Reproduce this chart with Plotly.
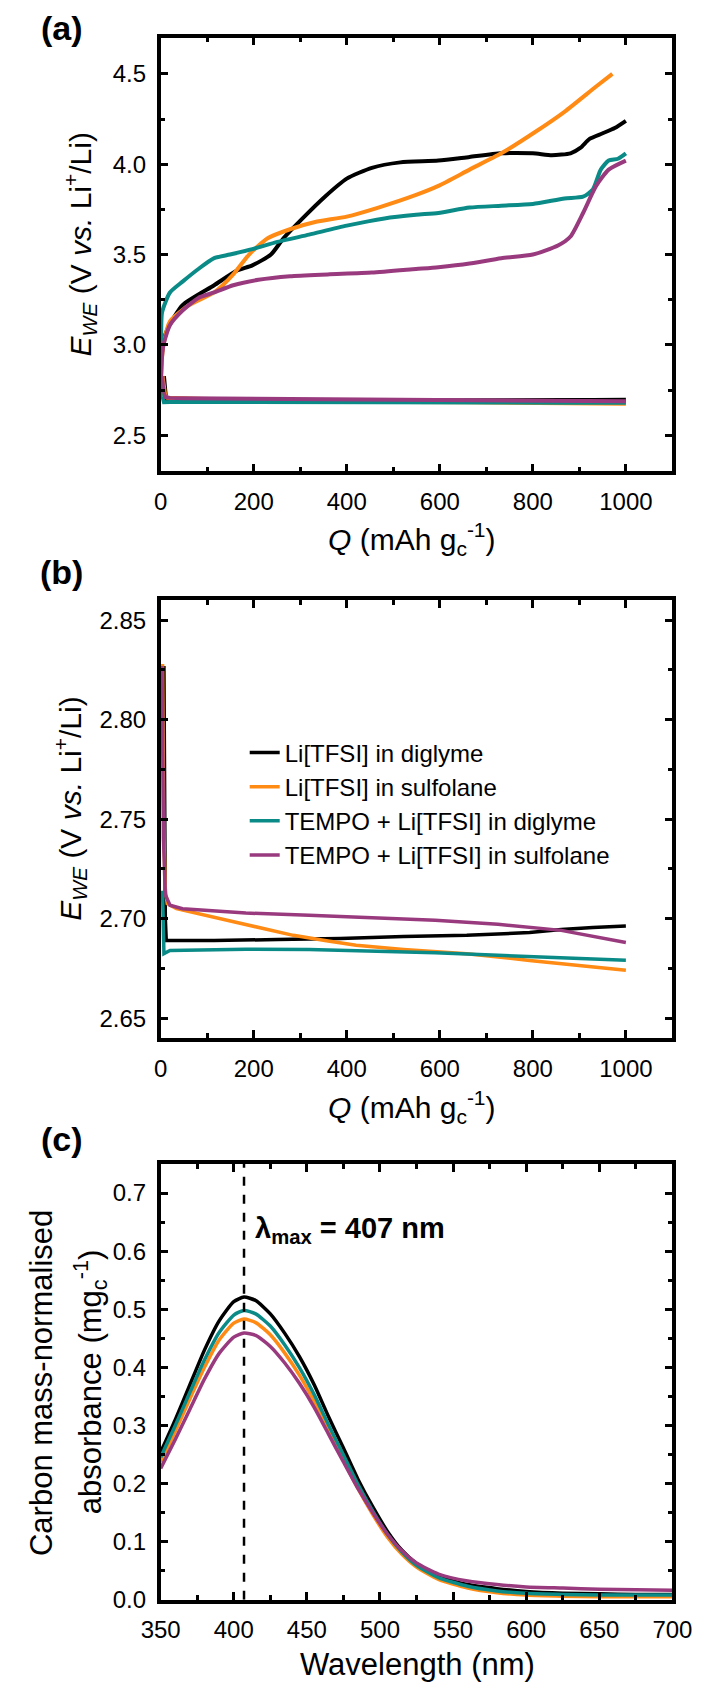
import plotly.graph_objects as go

# ---------------- data ----------------
names = ["Li[TFSI] in diglyme", "Li[TFSI] in sulfolane",
         "TEMPO + Li[TFSI] in diglyme", "TEMPO + Li[TFSI] in sulfolane"]
colors = ["#000000", "#FF8A14", "#0B8B87", "#993A7E"]

# panel (a) charge curves
black_chg_Q = [0, 2, 6, 15, 47, 115, 163, 197, 237, 264, 305, 353, 400, 454, 515, 597, 664, 732, 800, 841, 881, 902, 922, 949, 976, 1000]
black_chg_V = [2.72, 2.93, 3.02, 3.09, 3.22, 3.33, 3.41, 3.44, 3.50, 3.59, 3.70, 3.82, 3.92, 3.98, 4.01, 4.02, 4.04, 4.06, 4.06, 4.05, 4.06, 4.09, 4.14, 4.17, 4.20, 4.24]
orange_chg_Q = [0, 2, 6, 20, 61, 115, 156, 190, 230, 278, 332, 400, 468, 549, 597, 664, 732, 800, 868, 936, 971]
orange_chg_V = [2.72, 2.90, 3.00, 3.13, 3.22, 3.29, 3.39, 3.50, 3.59, 3.64, 3.68, 3.71, 3.76, 3.83, 3.88, 3.97, 4.06, 4.17, 4.29, 4.43, 4.50]
teal_chg_Q = [0, 1, 3, 20, 47, 81, 115, 149, 197, 251, 319, 400, 481, 549, 597, 664, 732, 800, 868, 908, 929, 946, 963, 983, 1000]
teal_chg_V = [2.70, 3.00, 3.18, 3.29, 3.35, 3.42, 3.48, 3.50, 3.53, 3.57, 3.61, 3.66, 3.70, 3.72, 3.73, 3.76, 3.77, 3.78, 3.81, 3.82, 3.86, 3.97, 4.02, 4.03, 4.06]
purple_chg_Q = [0, 2, 6, 20, 47, 81, 115, 156, 210, 278, 359, 454, 549, 597, 664, 732, 800, 854, 881, 908, 936, 963, 1000]
purple_chg_V = [2.73, 2.90, 3.00, 3.11, 3.19, 3.26, 3.29, 3.33, 3.36, 3.38, 3.39, 3.40, 3.42, 3.43, 3.45, 3.48, 3.50, 3.55, 3.60, 3.73, 3.88, 3.97, 4.02]

# discharge curves (panels a and b)
black_dis_Q = [7, 8, 10, 12, 40, 115, 251, 386, 522, 658, 793, 861, 929, 1000]
black_dis_V = [2.827, 2.78, 2.70, 2.689, 2.689, 2.689, 2.6895, 2.690, 2.691, 2.6916, 2.693, 2.6945, 2.6955, 2.6963]
orange_dis_Q = [4, 5, 7, 10, 14, 34, 81, 183, 285, 353, 420, 522, 658, 793, 929, 1000]
orange_dis_V = [2.828, 2.80, 2.74, 2.715, 2.7075, 2.705, 2.7025, 2.6967, 2.6916, 2.689, 2.6866, 2.6845, 2.6824, 2.679, 2.676, 2.674]
teal_dis_Q = [4, 5, 7, 20, 183, 319, 454, 590, 725, 861, 1000]
teal_dis_V = [2.714, 2.70, 2.6824, 2.684, 2.6846, 2.6845, 2.6838, 2.6828, 2.6816, 2.6803, 2.6791]
purple_dis_Q = [3, 4, 6, 10, 20, 47, 183, 319, 454, 590, 725, 861, 1000]
purple_dis_V = [2.827, 2.80, 2.74, 2.712, 2.7067, 2.705, 2.7028, 2.7017, 2.7005, 2.6992, 2.6972, 2.6941, 2.688]

# panel (c) UV-vis
wavelength = [350, 360, 370, 380, 390, 400, 407, 415, 425, 435, 445, 455, 465, 475, 485, 495, 505, 515, 525, 540, 560, 580, 600, 625, 650, 675, 700]
abs_black = [0.254, 0.31, 0.37, 0.43, 0.48, 0.513, 0.521, 0.515, 0.492, 0.458, 0.418, 0.370, 0.314, 0.261, 0.207, 0.160, 0.118, 0.085, 0.062, 0.040, 0.026, 0.019, 0.014, 0.011, 0.010, 0.009, 0.009]
abs_orange = [0.237, 0.29, 0.346, 0.40, 0.447, 0.476, 0.483, 0.477, 0.456, 0.424, 0.386, 0.341, 0.290, 0.240, 0.191, 0.147, 0.108, 0.078, 0.056, 0.035, 0.020, 0.012, 0.008, 0.006, 0.005, 0.005, 0.005]
abs_teal = [0.245, 0.30, 0.357, 0.413, 0.46, 0.49, 0.498, 0.492, 0.471, 0.438, 0.399, 0.353, 0.300, 0.249, 0.198, 0.153, 0.113, 0.082, 0.059, 0.038, 0.023, 0.015, 0.011, 0.009, 0.008, 0.008, 0.008]
abs_purple = [0.226, 0.276, 0.328, 0.38, 0.424, 0.452, 0.459, 0.455, 0.436, 0.407, 0.372, 0.331, 0.284, 0.237, 0.191, 0.150, 0.113, 0.084, 0.063, 0.044, 0.032, 0.026, 0.022, 0.020, 0.018, 0.017, 0.016]
lambda_max = 407
lambda_line_y = [0, 0.75]

chg = [(black_chg_Q, black_chg_V), (orange_chg_Q, orange_chg_V), (teal_chg_Q, teal_chg_V), (purple_chg_Q, purple_chg_V)]
dis = [(black_dis_Q, black_dis_V), (orange_dis_Q, orange_dis_V), (teal_dis_Q, teal_dis_V), (purple_dis_Q, purple_dis_V)]
uv = [abs_black, abs_orange, abs_teal, abs_purple]

# ---------------- figure ----------------
W, H = 716, 1698
FONT = "Liberation Sans, Arial, sans-serif"

def px(x):
    return x / W

def py(y):
    return 1 - y / H

fig = go.Figure()

for i in range(4):
    fig.add_trace(go.Scatter(x=dis[i][0], y=dis[i][1], mode="lines", line=dict(color=colors[i], width=4),
                             xaxis="x", yaxis="y", showlegend=False))
for i in range(4):
    fig.add_trace(go.Scatter(x=chg[i][0], y=chg[i][1], mode="lines", line=dict(color=colors[i], width=4, shape="spline", smoothing=0.6),
                             xaxis="x", yaxis="y", showlegend=False))
for i in range(4):
    fig.add_trace(go.Scatter(x=dis[i][0], y=dis[i][1], mode="lines", name=names[i], line=dict(color=colors[i], width=3.5),
                             xaxis="x2", yaxis="y2", showlegend=True))
for i in range(4):
    fig.add_trace(go.Scatter(x=wavelength, y=uv[i], mode="lines", line=dict(color=colors[i], width=3.5, shape="spline", smoothing=0.6),
                             xaxis="x3", yaxis="y3", showlegend=False))
fig.add_trace(go.Scatter(x=[lambda_max, lambda_max], y=lambda_line_y, mode="lines",
                         line=dict(color="black", width=2.5, dash="dash"), xaxis="x3", yaxis="y3", showlegend=False))

def axis(**kw):
    d = dict(showline=True, linewidth=3.5, linecolor="black", mirror="allticks",
             ticks="inside", ticklen=8, tickwidth=3, tickcolor="black",
             showgrid=False, zeroline=False, ticklabelstandoff=6,
             tickfont=dict(size=24, color="black", family=FONT),
             minor=dict(ticks="inside", ticklen=5, tickwidth=2.5, tickcolor="black", showgrid=False))
    d.update(kw)
    return d

xdom = [px(149), px(691)]
fig.update_layout(
    width=W, height=H, margin=dict(l=0, r=0, t=0, b=0),
    paper_bgcolor="white", plot_bgcolor="white",
    font=dict(family=FONT, color="black", size=24),
    xaxis=axis(domain=xdom, range=[0, 1100], tick0=0, dtick=200, minor_dtick=100, anchor="y"),
    yaxis=axis(domain=[py(475), py(38)], range=[2.3, 4.7], tick0=2.5, dtick=0.5, minor_dtick=0.25, tickformat=".1f", anchor="x"),
    xaxis2=axis(domain=xdom, range=[0, 1100], tick0=0, dtick=200, minor_dtick=100, anchor="y2"),
    yaxis2=axis(domain=[py(1046), py(605)], range=[2.64, 2.86], tick0=2.65, dtick=0.05, minor_dtick=0.025, tickformat=".2f", anchor="x2"),
    xaxis3=axis(domain=xdom, range=[350, 700], tick0=350, dtick=50, minor_dtick=25, anchor="y3"),
    yaxis3=axis(domain=[py(1612), py(1173)], range=[0, 0.75], tick0=0, dtick=0.1, minor_dtick=0.05, tickformat=".1f", anchor="x3"),
    legend=dict(x=px(238), y=py(736), xanchor="left", yanchor="top", bgcolor="rgba(0,0,0,0)",
                font=dict(size=24, color="black", family=FONT), tracegroupgap=0, itemwidth=30),
)

ann = []
def A(text, x, y, size, angle=0, **kw):
    d = dict(text=text, x=px(x), y=py(y), xref="paper", yref="paper", showarrow=False,
             font=dict(size=size, color="black", family=FONT), textangle=angle,
             xanchor="center", yanchor="middle")
    d.update(kw)
    ann.append(d)

A("<b>(a)</b>", 44, 28, 34)
A("<b>(b)</b>", 44, 576, 34)
A("<b>(c)</b>", 44, 1148, 34)
qtitle = "<i>Q</i> (mAh g<sub>c</sub><sup>-1</sup>)"
A(qtitle, 415, 543, 30)
A(qtitle, 415, 1116, 30)
A("Wavelength (nm)", 421, 1677, 31)
etitle = "<i>E</i><sub><i>WE</i></sub> (V <i>vs.</i> Li<sup>+</sup>/Li)"
A(etitle, 64, 246, 30, angle=-90)
A(etitle, 53, 815, 30, angle=-90)
A("Carbon mass-normalised", 23, 1394, 31, angle=-90)
A("absorbance (mg<sub>c</sub><sup>-1</sup>)", 74, 1393, 31, angle=-90)
ann.append(dict(text="<b>λ<sub>max</sub> = 407 nm</b>", x=413, y=0.637, xref="x3", yref="y3", showarrow=False,
                font=dict(size=29, color="black", family=FONT), xanchor="left", yanchor="middle"))
fig.update_layout(annotations=ann)

fig.write_html("out.html")
